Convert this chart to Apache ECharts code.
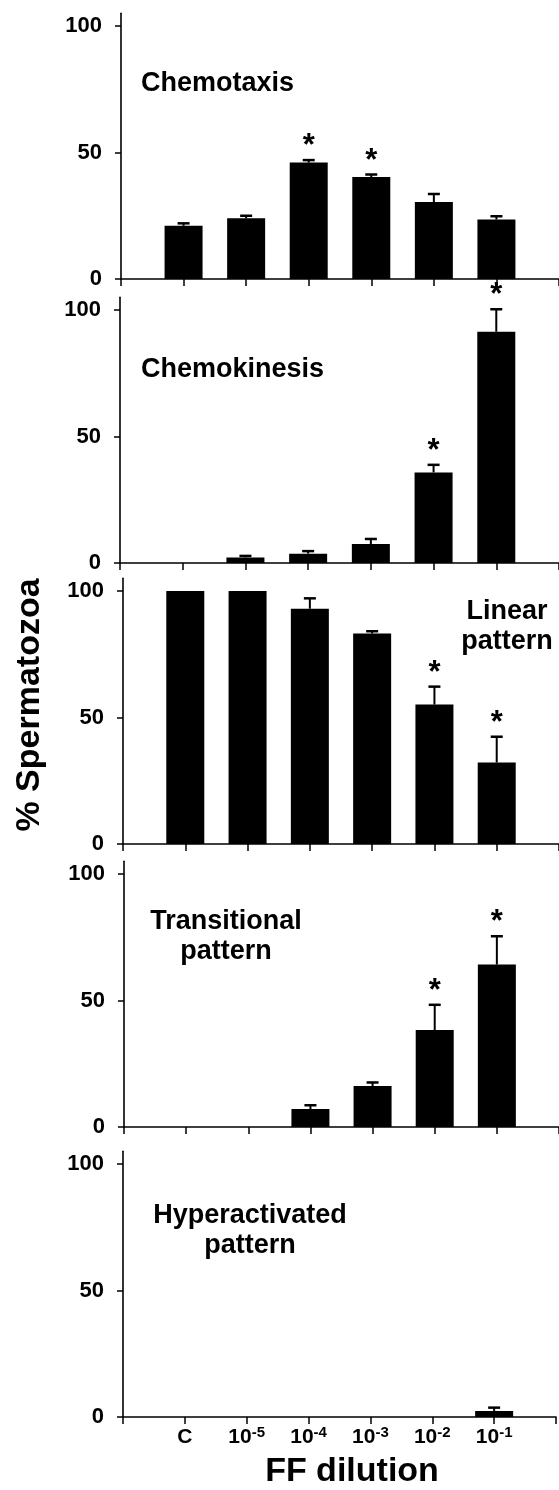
<!DOCTYPE html>
<html>
<head>
<meta charset="utf-8">
<script src="https://cdn.jsdelivr.net/npm/echarts@6/dist/echarts.min.js"></script>
<style>
html,body{margin:0;padding:0;background:#fff;}
#chart{width:559px;height:1490px;}
</style>
</head>
<body>
<div id="chart"></div>
<script>
// ---- data ----
const categories = ['C', '10-5', '10-4', '10-3', '10-2', '10-1'];
const exponents = ['', '-5', '-4', '-3', '-2', '-1'];
const yTicks = [0, 50, 100];
const panelNames = ['Chemotaxis', 'Chemokinesis', 'Linear\npattern', 'Transitional\npattern', 'Hyperactivated\npattern'];

const chemotaxisMean = [21, 24, 46, 40.3, 30.4, 23.5];
const chemotaxisErr = [1, 1, 1, 1, 3.2, 1.3];
const chemotaxisSig = [0, 0, 1, 1, 0, 0];

const chemokinesisMean = [0, 2.2, 3.7, 7.5, 35.8, 91.4];
const chemokinesisErr = [0, 0.6, 1, 2, 3, 8.9];
const chemokinesisSig = [0, 0, 0, 0, 1, 1];

const linearMean = [100, 100, 93, 83.2, 55.1, 32.2];
const linearErr = [0, 0, 4.1, 0.9, 7.1, 10.2];
const linearSig = [0, 0, 0, 0, 1, 1];

const transitionalMean = [0, 0, 7.1, 16.2, 38.3, 64.2];
const transitionalErr = [0, 0, 1.5, 1.4, 10, 11.2];
const transitionalSig = [0, 0, 0, 0, 1, 1];

const hyperMean = [0, 0, 0, 0, 0, 2.4];
const hyperErr = [0, 0, 0, 0, 0, 1.3];
const hyperSig = [0, 0, 0, 0, 0, 0];

const panels = [
  {mean: chemotaxisMean, err: chemotaxisErr, sig: chemotaxisSig},
  {mean: chemokinesisMean, err: chemokinesisErr, sig: chemokinesisSig},
  {mean: linearMean, err: linearErr, sig: linearSig},
  {mean: transitionalMean, err: transitionalErr, sig: transitionalSig},
  {mean: hyperMean, err: hyperErr, sig: hyperSig}
];

// ---- layout ----
const FONT = '"Liberation Sans", Arial, Helvetica, sans-serif';
const zeroY = [279, 563, 844, 1127, 1417];
const lefts = [121, 120, 123, 124, 123];
const unitPx = 2.53;
const yMax = 105;
const slot = 63.5;

const chart = echarts.init(document.getElementById('chart'), null, {renderer: 'canvas'});

const grids = [], xAxes = [], yAxes = [], series = [];
panels.forEach((p, i) => {
  const h = yMax * unitPx;
  grids.push({left: lefts[i], top: zeroY[i] - h, height: h, width: slot * 7, containLabel: false});
  const last = i === panels.length - 1;
  xAxes.push({
    type: 'value', gridIndex: i, min: -1, max: 6, interval: 1,
    axisLine: {show: true, onZero: false, lineStyle: {color: '#000', width: 1.6}},
    axisTick: {show: true, length: 7, lineStyle: {color: '#000', width: 1.5}},
    splitLine: {show: false},
    axisLabel: {
      show: last, margin: 8, color: '#000',
      formatter: function (v) {
        const k = Math.round(v);
        if (k < 0 || k >= categories.length) return '';
        if (k === 0) return '{b|' + categories[0] + '}';
        return '{b|10}{s|' + exponents[k] + '}';
      },
      rich: {
        b: {fontFamily: FONT, fontWeight: 'bold', fontSize: 21, color: '#000', lineHeight: 23, verticalAlign: 'bottom'},
        s: {fontFamily: FONT, fontWeight: 'bold', fontSize: 15, color: '#000', lineHeight: 23, verticalAlign: 'top', padding: [0, 0, 10, 0]}
      }
    }
  });
  yAxes.push({
    type: 'value', gridIndex: i, min: 0, max: yMax,
    axisLine: {show: true, onZero: false, lineStyle: {color: '#000', width: 1.6}},
    axisTick: {show: true, length: 6, customValues: yTicks, lineStyle: {color: '#000', width: 1.5}},
    axisLabel: {show: true, customValues: yTicks, margin: 19, color: '#000', fontFamily: FONT, fontWeight: 'bold', fontSize: 22},
    splitLine: {show: false}
  });
  series.push({
    type: 'bar', xAxisIndex: i, yAxisIndex: i, barWidth: 38,
    itemStyle: {color: '#000'},
    data: p.mean.map((v, k) => [k, v]),
    animation: false
  });
  series.push({
    type: 'custom', xAxisIndex: i, yAxisIndex: i, clip: false, animation: false,
    data: p.mean.map((v, k) => [k, v, p.err[k], p.sig[k]]),
    renderItem: function (params, api) {
      const x = api.value(0), v = api.value(1), e = api.value(2), s = api.value(3);
      const base = api.coord([x, v]);
      const top = api.coord([x, v + e]);
      const children = [];
      if (e > 0) {
        children.push({type: 'line', shape: {x1: base[0], y1: base[1], x2: top[0], y2: top[1]}, style: {stroke: '#000', lineWidth: 2}});
        children.push({type: 'line', shape: {x1: top[0] - 6, y1: top[1], x2: top[0] + 6, y2: top[1]}, style: {stroke: '#000', lineWidth: 2.5}});
      }
      if (s) {
        children.push({type: 'text', x: top[0], y: top[1] + 2,
          style: {text: '*', fill: '#000', font: 'bold 31px ' + FONT, textAlign: 'center', textVerticalAlign: 'bottom'}});
      }
      return {type: 'group', children: children};
    }
  });
});

const labelPos = [
  {x: 141, y: 84, align: 'left'},
  {x: 141, y: 370, align: 'left'},
  {x: 507, y: 627, align: 'center'},
  {x: 226, y: 937, align: 'center'},
  {x: 250, y: 1231, align: 'center'}
];

const graphics = panelNames.map((t, i) => ({
  type: 'text', x: labelPos[i].x, y: labelPos[i].y,
  style: {text: t, font: 'bold 27px ' + FONT, fill: '#000', textAlign: labelPos[i].align, textVerticalAlign: 'middle', lineHeight: 30}
}));
graphics.push({
  type: 'text', x: 352, y: 1472,
  style: {text: 'FF dilution', font: 'bold 34px ' + FONT, fill: '#000', textAlign: 'center', textVerticalAlign: 'middle'}
});
graphics.push({
  type: 'text', x: 30, y: 705, rotation: Math.PI / 2,
  style: {text: '% Spermatozoa', font: 'bold 34px ' + FONT, fill: '#000', textAlign: 'center', textVerticalAlign: 'middle'}
});

chart.setOption({
  animation: false,
  backgroundColor: '#fff',
  grid: grids, xAxis: xAxes, yAxis: yAxes, series: series,
  graphic: graphics
});
</script>
</body>
</html>
